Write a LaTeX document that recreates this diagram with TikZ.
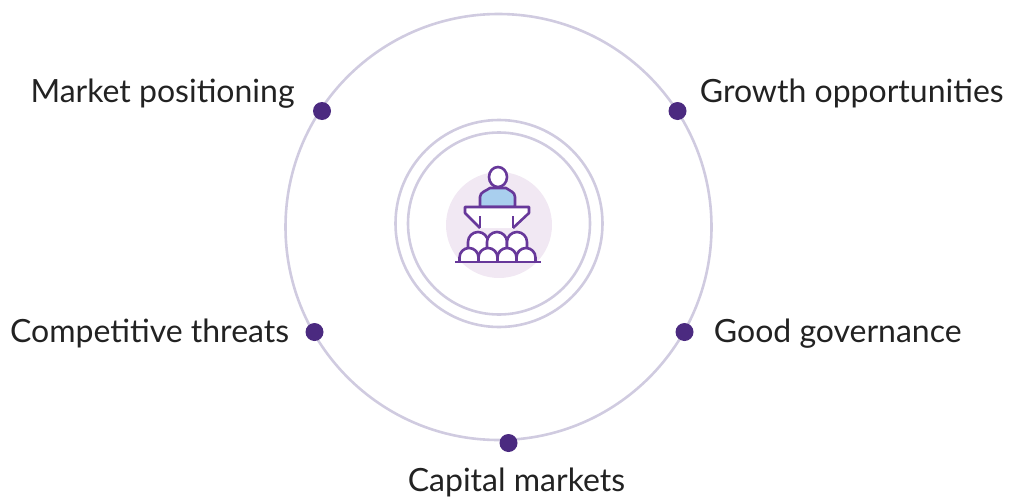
\documentclass[tikz,border=0pt]{standalone}
\usepackage{xcolor}
\usepackage{fontspec}
\setmainfont{Lato}
\definecolor{ringgrey}{HTML}{D0CBE0}
\definecolor{dotpurple}{HTML}{4B2A80}
\definecolor{iconpurple}{HTML}{67389A}
\definecolor{palepurple}{HTML}{F1E8F3}
\definecolor{podblue}{HTML}{A9CFEE}
\definecolor{textdark}{HTML}{222222}
\usetikzlibrary{positioning}

\begin{document}
\begin{tikzpicture}[
    x=1pt, y=-1pt,
    ring/.style={circle, draw=ringgrey, line width=2.6pt, inner sep=0pt},
    dot/.style={circle, fill=dotpurple, inner sep=0pt, minimum size=18pt},
    topic/.style={text=textdark, font=\fontsize{32}{36}\selectfont, inner sep=0pt},
    icon/.style={draw=iconpurple, line width=2.6pt, line join=round},
]
\useasboundingbox (0,0) rectangle (1010,498);
\node[ring, minimum size=426pt] (outer) at (498.5,227) {};
\node[ring, minimum size=207pt] (middle) at (499,223.5) {};
\node[ring, minimum size=182pt] (inner) at (499,223.5) {};
\node[circle, fill=palepurple, inner sep=0pt, minimum size=106pt] (pale) at (499,225) {};

\node[dot] (market) at (322,111) {};
\node[dot] (growth) at (677.5,111) {};
\node[dot] (threats) at (314.5,332) {};
\node[dot] (governance) at (684.5,332) {};
\node[dot] (capital) at (508.5,443) {};

\node[topic, left=18pt of market, yshift=17.5pt] (marketlabel) {Market positioning};
\node[topic, right=13pt of growth, yshift=17.5pt] (growthlabel) {Growth opportunities};
\node[topic, left=16pt of threats, yshift=-1pt] (threatslabel) {Competitive threats};
\node[topic, right=20pt of governance, yshift=-1.5pt] (governancelabel) {Good governance};
\node[topic, below=16pt of capital, xshift=8pt] (capitallabel) {Capital markets};

\draw[icon, fill=podblue] (480,207) -- (480,197) .. controls (480,192) and (486,191) .. (490,188) -- (506,188) .. controls (510,191) and (515,192) .. (515,197) -- (515,207) -- cycle;
\draw[icon, fill=white] (498,177) ellipse (9 and 10);
\draw[icon, fill=white] (480,228) -- (465,213) -- (465,207) -- (529,207) -- (529,213) -- (513,228);
\draw[icon] (480,216) -- (480,228);
\draw[icon] (513,216) -- (513,228);
\foreach \cx in {478,497,517} {
    \draw[icon, fill=white] (\cx-10,250) -- (\cx-10,242) arc (180:360:10 and 10) -- (\cx+10,250);
}
\foreach \cx in {469,488,507,526} {
    \draw[icon, fill=white] (\cx-9.5,262) -- (\cx-9.5,257.5) arc (180:360:9.5 and 9.5) -- (\cx+9.5,262);
}
\draw[icon] (455,262) -- (541,262);
\end{tikzpicture}
\end{document}
